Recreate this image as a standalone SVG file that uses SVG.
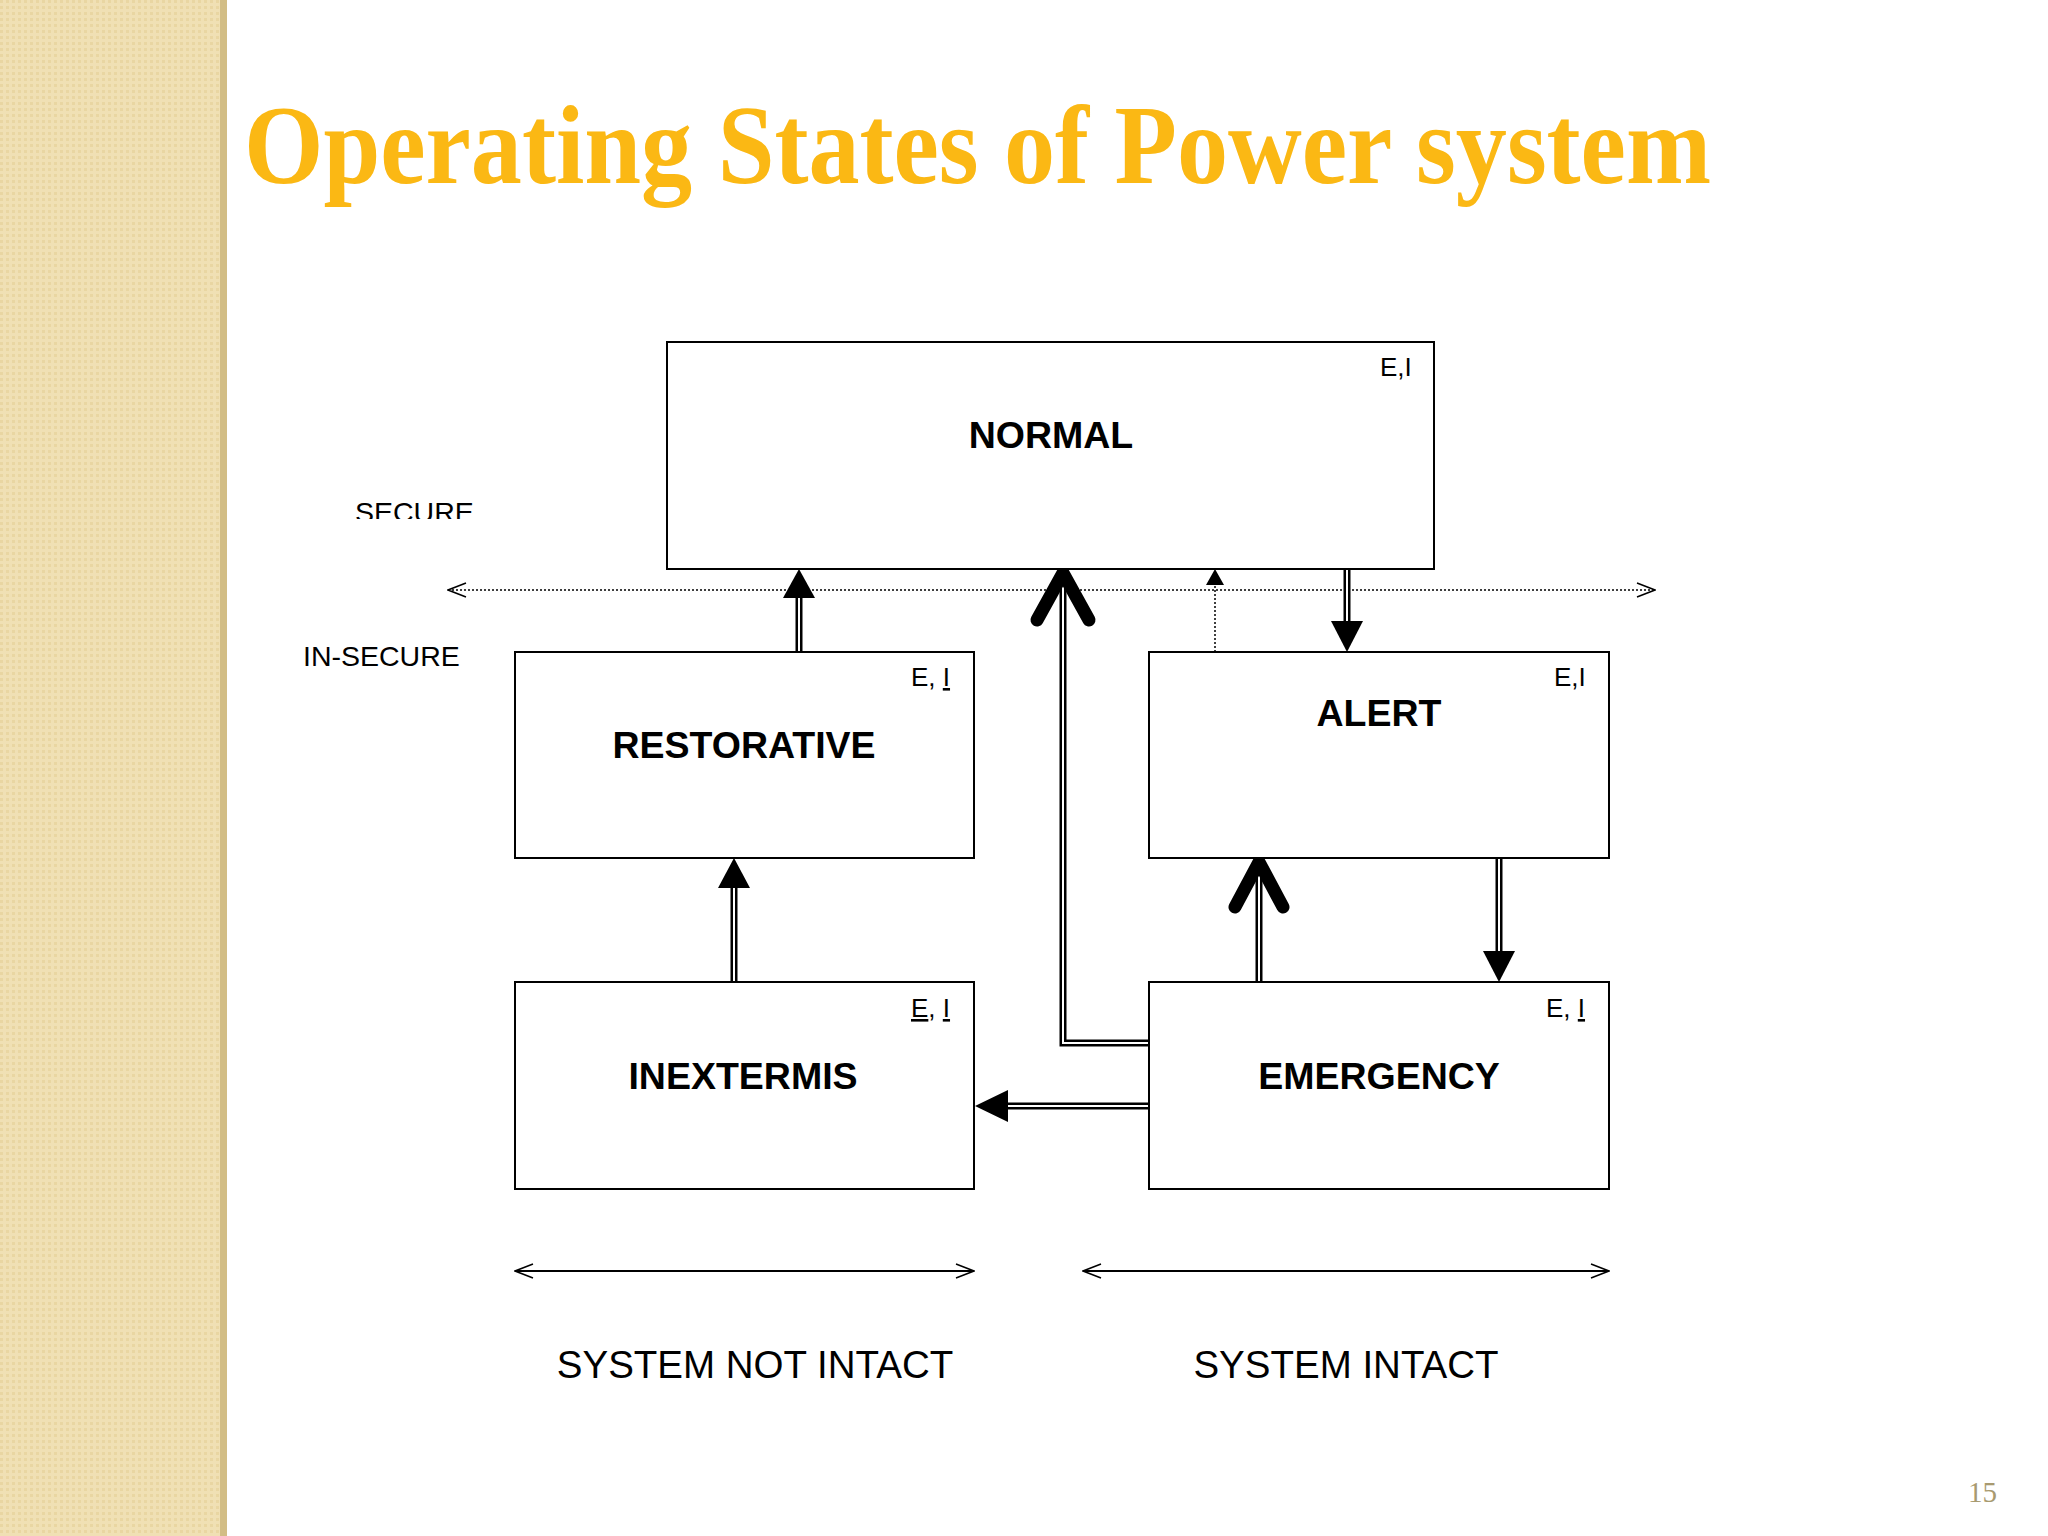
<svg xmlns="http://www.w3.org/2000/svg" width="2048" height="1536" viewBox="0 0 2048 1536">
<defs>
<style>
.box{fill:#fff;stroke:#000;stroke-width:2}
.lbl{font-family:"Liberation Sans",Arial,sans-serif;font-weight:bold;font-size:37.5px;text-anchor:middle;fill:#000}
.ei{font-family:"Liberation Sans",Arial,sans-serif;font-size:26px;fill:#000}
.txt{font-family:"Liberation Sans",Arial,sans-serif;font-size:28.5px;fill:#000}
.big{font-family:"Liberation Sans",Arial,sans-serif;font-size:38.5px;fill:#000;text-anchor:middle}
.dblo{stroke:#000;stroke-width:7;fill:none}
.dbli{stroke:#fff;stroke-width:2;fill:none}
.chev{stroke:#000;stroke-width:13;fill:none;stroke-linecap:round;stroke-linejoin:round}
</style>
<pattern id="tex" width="6" height="6" patternUnits="userSpaceOnUse">
<rect width="6" height="6" fill="#f0e0b4"/><rect width="3" height="3" fill="#e9d6a2"/>
</pattern>
<marker id="open" viewBox="0 0 20 20" refX="19" refY="10" markerWidth="20" markerHeight="20" markerUnits="userSpaceOnUse" orient="auto-start-reverse">
<path d="M1,3 L19,10 L1,17" fill="none" stroke="#000" stroke-width="1.5"/>
</marker>
</defs>
<rect width="2048" height="1536" fill="#fff"/>
<rect x="0" y="0" width="222" height="1536" fill="url(#tex)"/>
<rect x="220" y="0" width="7" height="1536" fill="#d2bd85"/>
<text x="244" y="183" font-family="'Liberation Serif','Times New Roman',serif" font-weight="bold" font-size="112" fill="#fbb814" textLength="1467" lengthAdjust="spacingAndGlyphs">Operating States of Power system</text>
<text x="1968" y="1502" font-family="'Liberation Serif',serif" font-size="29" fill="#a89a70">15</text>

<g id="bands">
<clipPath id="secclip"><rect x="300" y="480" width="200" height="39"/></clipPath>
<text class="txt" x="355" y="522" clip-path="url(#secclip)">SECURE</text>
<text class="txt" x="303" y="666">IN-SECURE</text>
<line x1="448" y1="590" x2="1655" y2="590" stroke="#000" stroke-width="1.5" stroke-dasharray="2,2" marker-start="url(#open)" marker-end="url(#open)"/>
<line x1="515" y1="1271" x2="974" y2="1271" stroke="#000" stroke-width="2" marker-start="url(#open)" marker-end="url(#open)"/>
<line x1="1083" y1="1271" x2="1609" y2="1271" stroke="#000" stroke-width="2" marker-start="url(#open)" marker-end="url(#open)"/>
<text class="big" x="755" y="1378">SYSTEM NOT INTACT</text>
<text class="big" x="1346" y="1378">SYSTEM INTACT</text>
</g>

<g id="connectors">
<line class="dblo" x1="799" y1="652" x2="799" y2="595"/><line class="dbli" x1="799" y1="652" x2="799" y2="595"/>
<polygon points="799,569 783,598 815,598"/>
<path class="dblo" d="M1149,1043 L1063,1043 L1063,575"/><path class="dbli" d="M1149,1043 L1063,1043 L1063,575"/>
<polyline class="chev" points="1037,620 1063,573 1089,620"/>
<line x1="1215" y1="652" x2="1215" y2="585" stroke="#000" stroke-width="1.5" stroke-dasharray="2,2"/>
<polygon points="1215,569 1206,585 1224,585"/>
<line class="dblo" x1="1347" y1="569" x2="1347" y2="625"/><line class="dbli" x1="1347" y1="569" x2="1347" y2="625"/>
<polygon points="1347,652 1331,621 1363,621"/>
<line class="dblo" x1="734" y1="982" x2="734" y2="885"/><line class="dbli" x1="734" y1="982" x2="734" y2="885"/>
<polygon points="734,858 718,888 750,888"/>
<line class="dblo" x1="1259" y1="982" x2="1259" y2="864"/><line class="dbli" x1="1259" y1="982" x2="1259" y2="864"/>
<polyline class="chev" points="1235,907 1259,862 1283,907"/>
<line class="dblo" x1="1499" y1="858" x2="1499" y2="955"/><line class="dbli" x1="1499" y1="858" x2="1499" y2="955"/>
<polygon points="1499,982 1483,951 1515,951"/>
<line class="dblo" x1="1149" y1="1106" x2="1000" y2="1106"/><line class="dbli" x1="1149" y1="1106" x2="1000" y2="1106"/>
<polygon points="975,1106 1008,1090 1008,1122"/>
</g>

<g id="normal"><rect class="box" x="667" y="342" width="767" height="227"/>
<text class="lbl" x="1051" y="448">NORMAL</text><text class="ei" x="1380" y="376">E,I</text></g>
<g id="restorative"><rect class="box" x="515" y="652" width="459" height="206"/>
<text class="lbl" x="744" y="758">RESTORATIVE</text><text class="ei" x="911" y="686">E, <tspan text-decoration="underline">I</tspan></text></g>
<g id="alert"><rect class="box" x="1149" y="652" width="460" height="206"/>
<text class="lbl" x="1379" y="726">ALERT</text><text class="ei" x="1554" y="686">E,I</text></g>
<g id="inextermis"><rect class="box" x="515" y="982" width="459" height="207"/>
<text class="lbl" x="743" y="1089">INEXTERMIS</text><text class="ei" x="911" y="1017"><tspan text-decoration="underline">E</tspan>, <tspan text-decoration="underline">I</tspan></text></g>
<g id="emergency"><rect class="box" x="1149" y="982" width="460" height="207"/>
<text class="lbl" x="1379" y="1089">EMERGENCY</text><text class="ei" x="1546" y="1017">E, <tspan text-decoration="underline">I</tspan></text></g>
</svg>
